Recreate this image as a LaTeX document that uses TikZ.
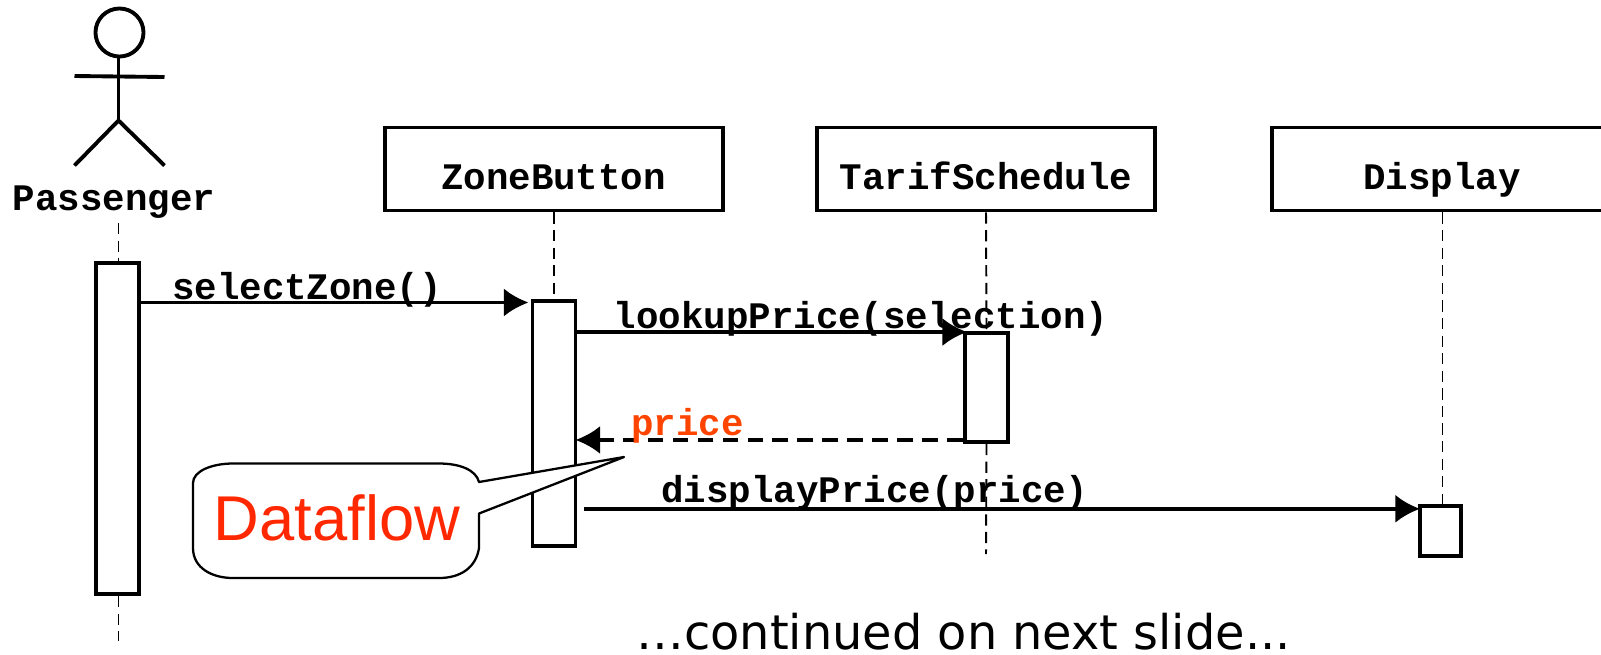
\documentclass[tikz,border=0pt]{standalone}
\usepackage{fontspec}
\setmainfont{Liberation Sans}
\setmonofont{Liberation Mono}
\newfontfamily\notefont{DejaVu Sans}
\usetikzlibrary{arrows.meta,calc}
\definecolor{pricecolor}{RGB}{255,68,0}
\definecolor{notecolor}{RGB}{255,40,0}
\tikzset{
  object/.style={draw,line width=1.1pt,minimum width=3.38cm,minimum height=0.83cm},
  activation/.style={draw,fill=white,line width=1.1pt,inner sep=0pt,minimum width=0.43cm},
  lifeline/.style={line width=0.55pt,dash pattern=on 3.2pt off 1.8pt},
  msg/.style={line width=1.1pt,-{Latex[length=7pt,width=8pt]}},
  msglabel/.style={font=\fontsize{10.65}{12}\selectfont\ttfamily\bfseries,inner sep=0pt},
  limb/.style={line width=1.1pt}
}
\begin{document}
\begin{tikzpicture}[x=0.01cm,y=-0.01cm]
  \clip (0,0) rectangle (1601,654);

  % actor
  \node [draw,circle,line width=1.1pt,minimum size=0.48cm,inner sep=0pt] (head) at (119.5,32.5) {};
  \coordinate (hip) at (118.5,120.5);
  \coordinate (armL) at (74.5,76);
  \coordinate (armR) at (164.5,77);
  \coordinate (footL) at (74.5,165.5);
  \coordinate (footR) at (164.5,165.5);
  \draw[limb] (head.south -| hip) -- (hip);
  \draw[limb] (armL) -- (armR);
  \draw[limb] (footL) -- (hip) -- (footR);
  \node [msglabel] (passenger) at (114,202) {Passenger};

  % objects
  \node [object] (zone) at (554,169) {};
  \node [object] (tarif) at (986,169) {};
  \node [object] (display) at (1441,169) {};
  \node [msglabel] (zoneText) at (553.5,177) {ZoneButton};
  \node [msglabel] (tarifText) at (986,176) {TarifSchedule};
  \node [msglabel] (displayText) at (1442,180) {Display};

  % activations
  \node [activation,minimum height=3.31cm] (aP) at (117.5,428.5) {};
  \node [activation,minimum height=2.45cm] (aZ) at (554,423.5) {};
  \node [activation,minimum height=1.09cm] (aT) at (986.5,387.5) {};
  \node [activation,minimum width=0.41cm,minimum height=0.495cm] (aD) at (1440.5,531) {};

  % lifelines
  \coordinate (topP) at (118.5,223);
  \coordinate (endP) at (118.5,641);
  \coordinate (endT) at (986,554);
  \draw[lifeline] (topP) -- (aP.north -| topP);
  \draw[lifeline] (aP.south -| endP) -- (endP);
  \draw[lifeline] (zone.south) -- (aZ.north);
  \draw[lifeline] (tarif.south) -- (aT.north);
  \draw[lifeline] (aT.south) -- (endT);
  \draw[lifeline] (display.south -| aD.north) ++(2,0) -- ($(aD.north)+(2,0)$);

  % messages
  \draw[msg] ($(aP.east |- aZ.north)+(-3,3.5)$) -- ($(aZ.north west)+(-2,3.5)$);
  \node [msglabel] (selectLabel) at (307,289.5) {selectZone()};
  \draw[msg] ($(aZ.east |- aT.north)+(0,1)$) -- ($(aT.north west)+(4,1)$);
  \node [msglabel] (lookupLabel) at (861,319) {lookupPrice(selection)};
  \draw[msg,dash pattern=on 4.5pt off 2.6pt] ($(aT.south west)+(0,-4)$) -- ($(aT.south west -| aZ.east)+(-2,-4)$);
  \node [msglabel,text=pricecolor] (priceLabel) at (687.5,426) {price};
  \draw[msg,shorten <=1.8pt] ($(aZ.east |- aD.north)+(0,4.5)$) -- ($(aD.north west)+(2,4.5)$);
  \node [msglabel] (displayLabel) at (875,492.5) {displayPrice(price)};

  % note
  \coordinate (noteTip) at (624,457);
  \draw[fill=white,line width=0.65pt,line join=round] (233,463.5) -- (439,463.5)
    .. controls (460,463.5) and (476,470) .. (479,482) -- (noteTip) -- (479,513.5)
    -- (479,548) .. controls (476,568) and (460,578) .. (439,578) -- (233,578)
    .. controls (212,578) and (193,568) .. (193,548) -- (193,483)
    .. controls (193,471) and (212,463.5) .. (233,463.5) -- cycle;
  \node [text=notecolor,inner sep=0pt,font=\fontsize{18}{22}\selectfont] (note) at (337,518) {Dataflow};

  \node [inner sep=0pt,font=\fontsize{13.6}{16}\selectfont\notefont] (next) at (963.5,632) {…continued on next slide...};
\end{tikzpicture}
\end{document}
